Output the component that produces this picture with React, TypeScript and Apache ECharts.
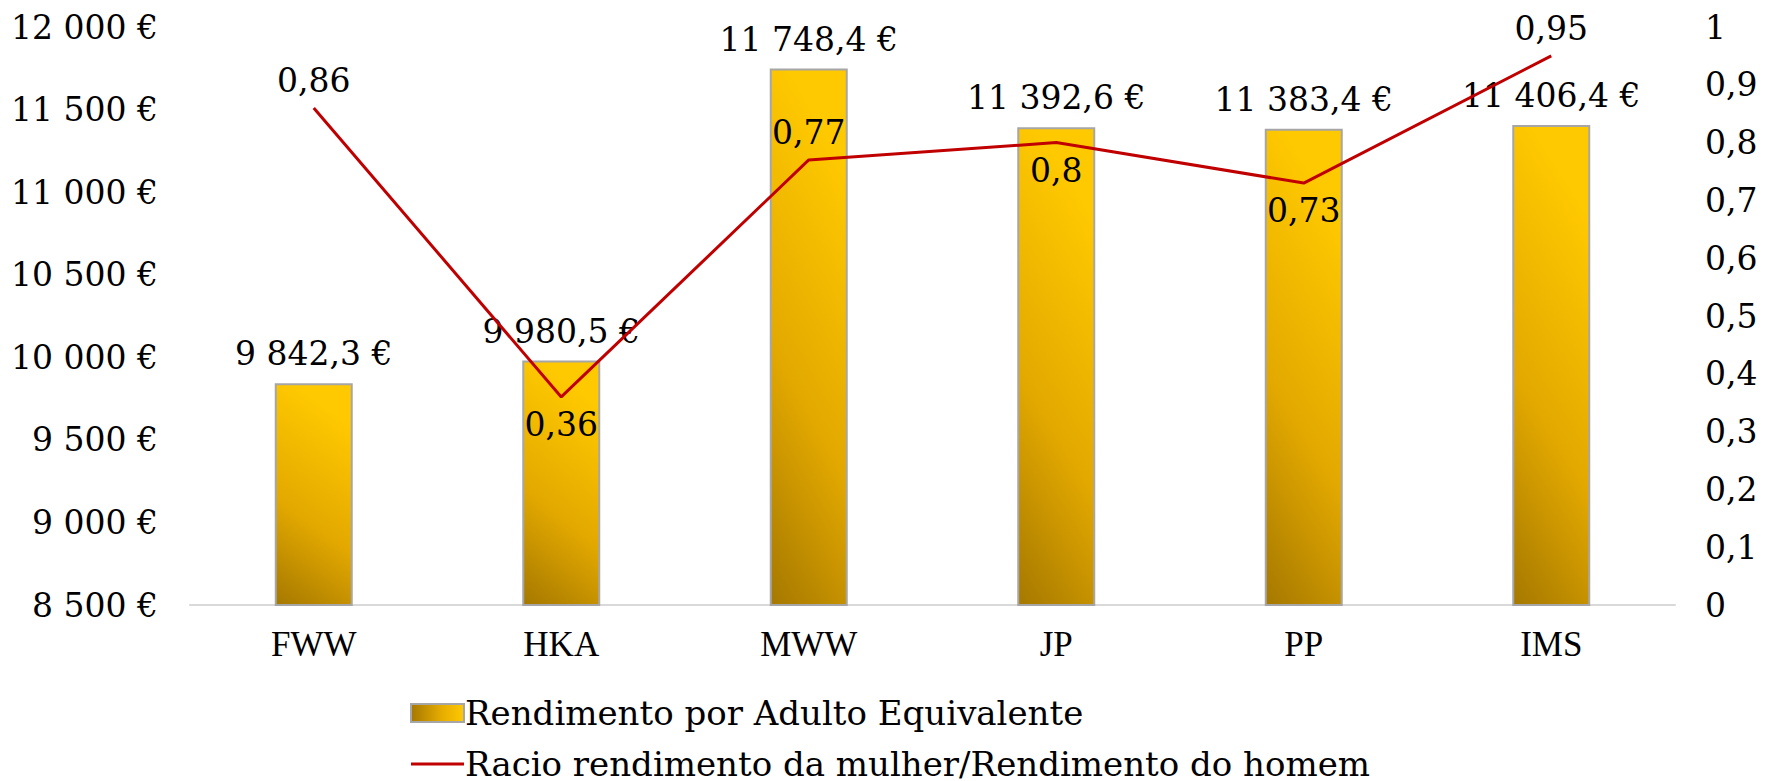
import React, { useEffect, useRef } from "react";
import * as echarts from "echarts";

const categories = ["FWW", "HKA", "MWW", "JP", "PP", "IMS"];
const incomeValues = [9842.3, 9980.5, 11748.4, 11392.6, 11383.4, 11406.4];
const ratioValues = [0.86, 0.36, 0.77, 0.8, 0.73, 0.95];
const seriesNames = [
  "Rendimento por Adulto Equivalente",
  "Racio rendimento da mulher/Rendimento do homem",
];

const numFont = "'DejaVu Serif', serif";
const catFont = "'Liberation Serif', 'Times New Roman', serif";

function fmtThousands(v: number, decimals: number): string {
  const fixed = v.toFixed(decimals);
  const [intPart, dec] = fixed.split(".");
  const withSp = intPart.replace(/\B(?=(\d{3})+(?!\d))/g, " ");
  return dec !== undefined ? withSp + "," + dec : withSp;
}

export default function App() {
  const ref = useRef<HTMLDivElement>(null);
  useEffect(() => {
    document.body.style.margin = "0";
    if (!ref.current) return;
    const chart = echarts.init(ref.current, null, { renderer: "svg" });
    const ratioLabelPos = ["top", "bottom", "top", "bottom", "bottom", "top"];
    const barGradient = new echarts.graphic.LinearGradient(0.25, 0, 0, 1, [
      { offset: 0, color: "#FFC900" },
      { offset: 0.55, color: "#E2A800" },
      { offset: 1, color: "#A57800" },
    ]);
    const legendGradient = new echarts.graphic.LinearGradient(0, 0, 1, 0, [
      { offset: 0, color: "#A57800" },
      { offset: 0.6, color: "#E8AE00" },
      { offset: 1, color: "#FFC900" },
    ]);
    chart.setOption({
      animation: false,
      backgroundColor: "#ffffff",
      grid: { left: 190, right: 98, top: 27, bottom: 176, containLabel: false },
      legend: {
        orient: "vertical",
        left: 410,
        top: 696,
        padding: 0,
        itemWidth: 53,
        itemHeight: 18,
        itemGap: 17,
        height: 200,
        textStyle: { fontFamily: numFont, fontSize: 34, color: "#000", lineHeight: 32, padding: [0, 0, 0, -4] },
        data: [
          {
            name: seriesNames[0],
            icon: "rect",
            itemStyle: { color: legendGradient, borderColor: "#A6A6A6", borderWidth: 2 },
          },
          {
            name: seriesNames[1],
            icon: "path://M0,0 M0,7.5 L53,7.5 L53,10.5 L0,10.5 Z M53,18",
            itemStyle: { color: "#C00000", borderWidth: 0 },
          },
        ],
      },
      xAxis: {
        type: "category",
        data: categories,
        axisLine: { lineStyle: { color: "#D9D9D9", width: 2 } },
        axisTick: { show: false },
        axisLabel: { fontFamily: catFont, fontSize: 35, color: "#000", margin: 22 },
      },
      yAxis: [
        {
          type: "value",
          min: 8500,
          max: 12000,
          interval: 500,
          splitLine: { show: false },
          axisLine: { show: false },
          axisTick: { show: false },
          axisLabel: {
            fontFamily: numFont,
            fontSize: 33,
            color: "#000",
            margin: 32,
            formatter: (v: number) => fmtThousands(v, 0) + " €",
          },
        },
        {
          type: "value",
          min: 0,
          max: 1,
          interval: 0.1,
          splitLine: { show: false },
          axisLine: { show: false },
          axisTick: { show: false },
          axisLabel: {
            fontFamily: numFont,
            fontSize: 33,
            color: "#000",
            margin: 30,
            formatter: (v: number) => String(Math.round(v * 10) / 10).replace(".", ","),
          },
        },
      ],
      series: [
        {
          name: seriesNames[0],
          type: "bar",
          yAxisIndex: 0,
          barWidth: 78,
          data: incomeValues,
          itemStyle: { color: barGradient, borderColor: "#A6A6A6", borderWidth: 2 },
          label: {
            show: true,
            position: "top",
            distance: 13,
            fontFamily: numFont,
            fontSize: 33,
            color: "#000",
            formatter: (p: any) => fmtThousands(p.value, 1) + " €",
          },
        },
        {
          name: seriesNames[1],
          type: "line",
          yAxisIndex: 1,
          showSymbol: true,
          symbol: "circle",
          symbolSize: 0,
          lineStyle: { color: "#C00000", width: 3 },
          itemStyle: { color: "#C00000" },
          data: ratioValues.map((v, i) => ({
            value: v,
            label: { position: ratioLabelPos[i] },
          })),
          label: {
            show: true,
            distance: 11,
            fontFamily: numFont,
            fontSize: 33,
            color: "#000",
            formatter: (p: any) => String(p.value).replace(".", ","),
          },
        },
      ],
    });
    return () => chart.dispose();
  }, []);
  return <div ref={ref} style={{ width: 1773, height: 781 }} />;
}
